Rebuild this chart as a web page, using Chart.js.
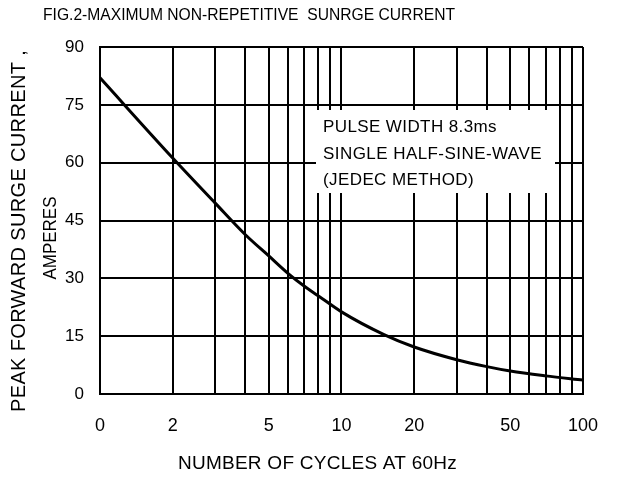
<!DOCTYPE html>
<html><head><meta charset="utf-8">
<script src="https://cdn.jsdelivr.net/npm/chart.js@4/dist/chart.umd.min.js"></script>
<style>html,body{margin:0;padding:0;background:#fff}#wrap{width:619px;height:478px;position:relative}</style>
</head><body><div id="wrap"><canvas id="c" width="619" height="478"></canvas></div>
<script>
// ---- data ----
const cycles  = [1, 2, 3, 4, 5, 6, 7, 8, 10, 15, 20, 30, 40, 50, 70, 100];
const current = [82, 61.2, 49.5, 41.3, 35.8, 31.3, 28.0, 25.5, 21.3, 15.4, 12.2, 8.9, 7.1, 5.95, 4.7, 3.6];
const xGrid = [1, 2, 3, 4, 5, 6, 7, 8, 9, 10, 20, 30, 40, 50, 60, 70, 80, 90, 100];
const xTickValues = [1, 2, 5, 10, 20, 50, 100];
const xTickLabels = ['0', '2', '5', '10', '20', '50', '100'];
const yTickValues = [0, 15, 30, 45, 60, 75, 90];
const titleText = 'FIG.2-MAXIMUM NON-REPETITIVE  SUNRGE CURRENT';
const xTitleText = 'NUMBER OF CYCLES AT 60Hz';
const yTitleLine1 = 'PEAK FORWARD SURGE CURRENT ,';
const yTitleLine2 = 'AMPERES';
const noteLines = ['PULSE WIDTH 8.3ms', 'SINGLE HALF-SINE-WAVE', '(JEDEC METHOD)'];

const FONT = '"Liberation Sans", Arial, sans-serif';

function fitText(ctx, text, left, y, target) {
  ctx.letterSpacing = '0px';
  ctx.textAlign = 'left';
  const w = ctx.measureText(text).width;
  if (w > target) {
    ctx.fillText(text, left, y, target);
  } else {
    const n = [...text].length;
    ctx.letterSpacing = ((target - w) / n).toFixed(2) + 'px';
    ctx.fillText(text, left, y);
    ctx.letterSpacing = '0px';
  }
}

const annotations = {
  id: 'annotations',
  beforeDatasetsDraw(chart) {
    const ctx = chart.ctx;
    ctx.save();
    ctx.fillStyle = '#fff';
    ctx.fillRect(316, 110, 239, 83);
    ctx.fillStyle = '#000';
    ctx.font = '17px ' + FONT;
    ctx.textBaseline = 'middle';
    const widths = [174, 219, 151];
    const ys = [127, 154, 180];
    noteLines.forEach((t, i) => fitText(ctx, t, 323, ys[i], widths[i]));
    ctx.restore();
  },
  afterDraw(chart) {
    const ctx = chart.ctx;
    ctx.save();
    ctx.fillStyle = '#000';
    ctx.textBaseline = 'middle';
    ctx.font = '17px ' + FONT;
    fitText(ctx, titleText, 43, 15, 412);
    ctx.font = '19px ' + FONT;
    fitText(ctx, xTitleText, 178, 464, 279);
    ctx.save();
    ctx.translate(19, 231);
    ctx.rotate(-Math.PI / 2);
    ctx.font = '20px ' + FONT;
    fitText(ctx, yTitleLine1, -181, 0, 362);
    ctx.restore();
    ctx.save();
    ctx.translate(51, 238);
    ctx.rotate(-Math.PI / 2);
    ctx.font = '18px ' + FONT;
    fitText(ctx, yTitleLine2, -41.5, 0, 83);
    ctx.restore();
    ctx.restore();
  }
};

new Chart(document.getElementById('c'), {
  type: 'line',
  data: {
    datasets: [{
      data: cycles.map((c, i) => ({ x: c, y: current[i] })),
      borderColor: '#000',
      borderWidth: 3,
      pointRadius: 0,
      cubicInterpolationMode: 'monotone',
      fill: false
    }]
  },
  options: {
    responsive: false,
    animation: false,
    layout: { padding: { top: 47, right: 36, left: 0, bottom: 0 } },
    plugins: { legend: { display: false }, tooltip: { enabled: false }, title: { display: false } },
    scales: {
      x: {
        type: 'logarithmic',
        min: 1, max: 100,
        afterBuildTicks(s) { s.ticks = xGrid.map(v => ({ value: v })); },
        afterFit(s) { s.height = 84; },
        ticks: {
          autoSkip: false, maxRotation: 0, minRotation: 0,
          color: '#000', padding: 21,
          font: { family: FONT, size: 18 },
          callback(v) { const i = xTickValues.indexOf(v); return i >= 0 ? xTickLabels[i] : ''; }
        },
        grid: { color: '#000', lineWidth: 2, drawTicks: false },
        border: { color: '#000', width: 2 }
      },
      y: {
        min: 0, max: 90,
        afterBuildTicks(s) { s.ticks = yTickValues.map(v => ({ value: v })); },
        afterFit(s) { s.width = 100; },
        ticks: {
          color: '#000', padding: 16,
          font: { family: FONT, size: 17 }
        },
        grid: { color: '#000', lineWidth: 2, drawTicks: false },
        border: { color: '#000', width: 2 }
      }
    }
  },
  plugins: [annotations]
});
</script>
</body></html>
